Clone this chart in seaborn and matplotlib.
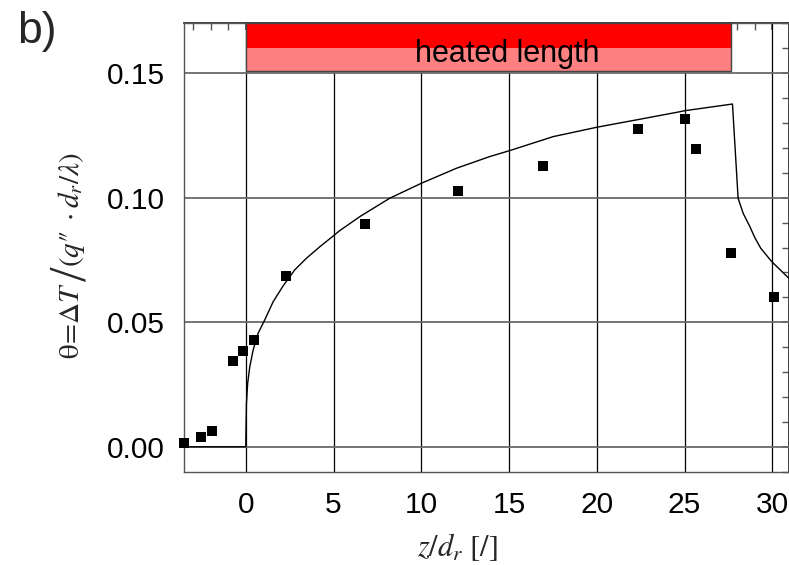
import matplotlib
matplotlib.use("Agg")
import matplotlib.pyplot as plt
from matplotlib.patches import Rectangle
from matplotlib.ticker import MultipleLocator
import seaborn as sns
import pandas as pd

# Measured wall temperature (dimensionless) along the tube
z_meas = [-3.53, -2.57, -1.95, -0.73, -0.14, 0.48, 2.30, 6.81, 12.09,
          16.93, 22.37, 25.01, 25.68, 27.67, 30.10]
theta_meas = [0.0017, 0.0040, 0.0064, 0.0346, 0.0385, 0.0430, 0.0684,
              0.0896, 0.1025, 0.1126, 0.1276, 0.1316, 0.1196, 0.0779, 0.0601]

# Computed profile
z_calc = [-3.5, 0.0, 0.04, 0.11, 0.23, 0.42, 0.70, 1.08, 1.56, 2.13, 2.79,
          3.46, 4.22, 4.98, 5.36, 6.5, 8.21, 10.01, 12.0, 13.9, 15.04, 17.51,
          20.02, 22.39, 24.73, 25.0, 27.73, 28.05, 28.34, 28.72, 29.0, 29.34,
          29.97, 30.95]
theta_calc = [0.0, 0.0, 0.0174, 0.0255, 0.0321, 0.0388, 0.0455, 0.0509,
              0.0582, 0.0646, 0.0710, 0.0757, 0.0803, 0.0846, 0.0868, 0.0924,
              0.0998, 0.1058, 0.1118, 0.1165, 0.1189, 0.1245, 0.1283, 0.1314,
              0.1345, 0.1349, 0.1376, 0.0998, 0.0937, 0.0884, 0.0840, 0.0797,
              0.0743, 0.0676]

heated_start, heated_end = 0.0, 27.64
x_ticks = [0, 5, 10, 15, 20, 25, 30]
y_ticks = [0.00, 0.05, 0.10, 0.15]

sns.set_theme(style="white")
plt.rcParams["font.family"] = ["Liberation Sans", "DejaVu Sans"]
plt.rcParams["mathtext.fontset"] = "stix"

fig = plt.figure(figsize=(7.89, 5.65), dpi=100)
W, H = 789, 565
left_px, right_px, top_px, bot_px = 184.3, 789.0, 23.3, 471.7
ax = fig.add_axes([left_px / W, 1 - bot_px / H,
                   (right_px - left_px) / W, (bot_px - top_px) / H])

calc = pd.DataFrame({"z": z_calc, "theta": theta_calc})
meas = pd.DataFrame({"z": z_meas, "theta": theta_meas})

sns.lineplot(data=calc, x="z", y="theta", ax=ax, sort=False,
             estimator=None, color="black", linewidth=1.0, zorder=4)
sns.scatterplot(data=meas, x="z", y="theta", ax=ax, marker="s", s=42,
                color="black", edgecolor="black", linewidth=0,
                zorder=5, clip_on=False)

ax.set_xlim(-3.5, 30.95)
ax.set_ylim(-0.01, 0.17)
ax.set_xticks(x_ticks)
ax.set_yticks(y_ticks)
ax.set_xticklabels([str(t) for t in x_ticks])
ax.set_yticklabels([f"{t:.2f}" for t in y_ticks])
ax.xaxis.set_minor_locator(MultipleLocator(1))
ax.yaxis.set_minor_locator(MultipleLocator(0.01))
ax.tick_params(axis="both", which="major", direction="out", length=8,
               width=1, color="#555555", labelsize=21.5, pad=6,
               labelcolor="black")
ax.tick_params(axis="both", which="minor", direction="out", length=5,
               width=1, color="#555555")
ax.set_xlabel("")
ax.set_ylabel("")

# grid
ax.grid(False)
for xv in x_ticks:
    ax.axvline(xv, color="black", linewidth=0.9, zorder=1)
for yv in y_ticks:
    ax.axhline(yv, color="#6a6a6a", linewidth=1.3, zorder=1)

for sp in ax.spines.values():
    sp.set_color("#555555")
    sp.set_linewidth(1.0)

# inward ticks on the top and right sides
top = ax.secondary_xaxis("top")
top.set_xticks(x_ticks)
top.xaxis.set_minor_locator(MultipleLocator(1))
top.tick_params(which="both", direction="in", length=5, color="#555555",
                labeltop=False)
right = ax.secondary_yaxis("right")
right.set_yticks(y_ticks)
right.yaxis.set_minor_locator(MultipleLocator(0.01))
right.tick_params(which="both", direction="in", length=5, color="#555555",
                  labelright=False)

# heated section bar
y_lo, y_mid, y_hi = 0.1509, 0.1601, 0.170
ax.add_patch(Rectangle((heated_start, y_mid), heated_end - heated_start,
                       y_hi - y_mid, facecolor="#ff0000", edgecolor="none",
                       zorder=6, clip_on=False))
ax.add_patch(Rectangle((heated_start, y_lo), heated_end - heated_start,
                       y_mid - y_lo, facecolor="#ff8080", edgecolor="none",
                       zorder=6, clip_on=False))
ax.add_patch(Rectangle((heated_start, y_lo), heated_end - heated_start,
                       y_hi - y_lo, facecolor="none", edgecolor="#444444",
                       linewidth=1.0, zorder=7, clip_on=False))
ax.text(14.9, 0.1545, "heated length", ha="center", va="baseline",
        fontsize=22, color="black", zorder=8)

fig.text(17 / W, 1 - 43 / H, "b)", fontsize=32, va="baseline", ha="left")

# y label in three pieces so the division slash can be drawn large
renderer = fig.canvas.get_renderer()
base_x = 79 / W
y_start = 1 - 359 / H
part_a = fig.text(base_x, y_start, r"$\mathrm{\theta}\!=\!\Delta T$",
                  rotation=90, rotation_mode="anchor", ha="left",
                  va="baseline", fontsize=21)
bb = part_a.get_window_extent(renderer)
slash = fig.text(base_x + 7 / W, (bb.y1 + 1) / H, "/",
                 family="Liberation Serif", rotation=90,
                 rotation_mode="anchor", ha="left", va="baseline",
                 fontsize=38)
bb = slash.get_window_extent(renderer)
fig.text(base_x, (bb.y1 - 1) / H, r"$(q″\;\cdot d_r/\lambda)$",
         rotation=90, rotation_mode="anchor", ha="left",
         va="baseline", fontsize=21)

fig.text(457 / W, 1 - 556 / H, r"$z/d_r\ [/]$",
         ha="center", va="baseline", fontsize=22)

fig.savefig("out.png", dpi=100)
